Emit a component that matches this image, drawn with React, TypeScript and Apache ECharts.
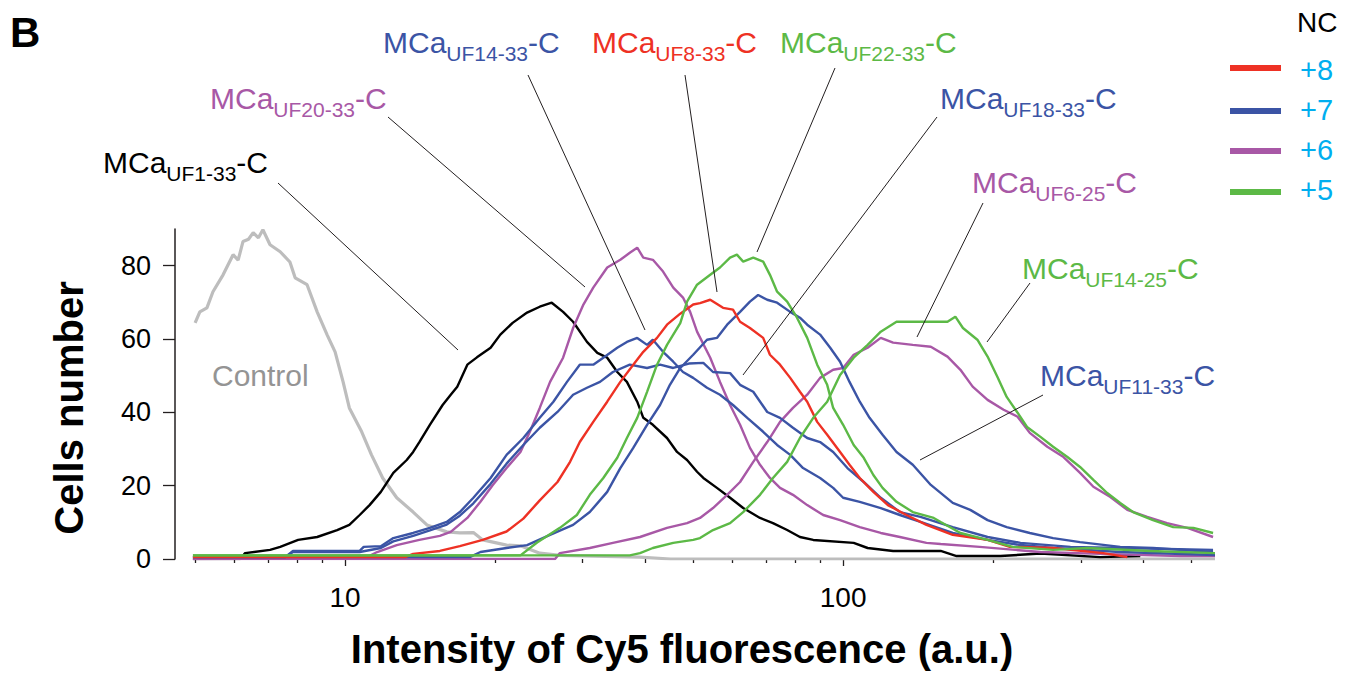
import React, { useEffect, useRef } from "react";
import * as echarts from "echarts";

const FONT = '"Liberation Sans", Arial, Helvetica, sans-serif';

// x axis (log) range and tick values
const X_MIN = 4.556;
const X_MAX = 558;
const X_MAJOR = [10, 100];
const X_MINOR = [5, 6, 7, 8, 9, 20, 30, 40, 50, 60, 70, 80, 90, 200, 300, 400, 500];
const Y_TICKS = [0, 20, 40, 60, 80];

// [Cy5 intensity (a.u.), cells number]
const control: [number, number][] = [
  [5.0, 64.4], [5.11, 67.4], [5.28, 68.5], [5.43, 72.9], [5.69, 77.5], [5.96, 83], [6.1, 81.5],
  [6.24, 86.6], [6.4, 87.2], [6.54, 89], [6.7, 87.6], [6.84, 89.8], [7.07, 85.7], [7.41, 83.8],
  [7.75, 81], [7.94, 76.7], [8.39, 74.8], [8.79, 67.4], [9.2, 61.2], [9.55, 56.5], [9.91, 48.3],
  [10.2, 41.2], [10.8, 34.7], [11.3, 28.4], [11.9, 22.1], [12.7, 16.7], [13.7, 12.8], [14.6, 9.3],
  [16.0, 7.4], [17.0, 7.1], [18.1, 7.2], [18.9, 5.2], [21.1, 3.8], [22.5, 3.6], [24.6, 1.6],
  [27, 1.0], [39, 0.5], [45, 0], [558, 0],
];
const uf1_33: [number, number][] = [
  [4.95, 0], [6.16, 0], [6.3, 1.6], [7.07, 2.5], [7.41, 3.3], [8.05, 5.2], [8.79, 6.0], [9.64, 7.9],
  [10.2, 9.3], [10.7, 12], [11.2, 14.7], [11.8, 18.3], [12.5, 23.5], [13.3, 27], [13.7, 29.2],
  [14.1, 31.9], [14.8, 36.6], [15.7, 42], [16.3, 44.8], [16.8, 47], [17.6, 53], [18.4, 55],
  [19.6, 57.6], [20.5, 61.2], [21.7, 64.4], [23.2, 67.2], [24.6, 68.8], [26.0, 69.9], [27.4, 67.4],
  [28.7, 64.7], [30.6, 59.2], [32.1, 56.2], [33.6, 54.9], [35.2, 51], [36.8, 48.3], [38.6, 42.9],
  [39.7, 38.5], [41.5, 36.6], [44.3, 33], [46.4, 29.2], [48.6, 27], [50.9, 23.8], [52.4, 22.1],
  [55.8, 19.4], [59.3, 16.7], [63, 13.9], [68.1, 11.2], [72.3, 9.8], [77.2, 7.9], [81.9, 6.0],
  [87.1, 5.2], [105, 4.4], [112, 3.0], [126, 2.2], [157, 2.2], [169, 0.8], [207, 0.8], [249, 1.5],
  [328, 0.5], [395, 0.8],
];
const uf20_33: [number, number][] = [
  [4.95, 0], [11, 0.3], [11.6, 1.9], [12.7, 3.8], [14.1, 5.2], [15.5, 6.3], [16.3, 7.4], [17.6, 11.2],
  [18.7, 15.6], [19.8, 20.2], [21.1, 24.8], [22.5, 29.2], [23.5, 34.7], [24.6, 41.2], [25.8, 48.3],
  [27.4, 54.9], [28.7, 63], [30.1, 69.4], [31.5, 74], [33.6, 79.5], [35.7, 81.6], [37.3, 83.5],
  [38.6, 84.9], [39.7, 82.2], [41.5, 81.6], [43.5, 78.4], [45.6, 74], [47.7, 71.3], [49.3, 67.4],
  [50.9, 62], [54.1, 54.9], [56.6, 48.3], [59.3, 42], [62.1, 36.6], [65, 30.3], [68.1, 25.7],
  [71.3, 22.1], [74.7, 19.4], [79.3, 17.5], [84.7, 14.7], [91.2, 12], [98.6, 10.6], [108, 8.7],
  [119, 7.1], [130, 6.0], [147, 4.4], [157, 4.1], [188, 3.3], [249, 1.9], [328, 1.4], [475, 0.8],
  [558, 0.8],
];
const uf6_25: [number, number][] = [
  [4.95, 0], [26.4, 0], [27, 1.6], [31, 3.0], [34.5, 4.4], [39.1, 6.0], [44.3, 8.5], [48.6, 9.8],
  [51.6, 11.2], [54.8, 13.9], [58.5, 17.5], [62.1, 21], [66, 26.5], [70.4, 31.9], [74.7, 37.4],
  [79.3, 41.2], [84.7, 44.8], [89.9, 49.4], [95.5, 51.6], [100, 52.1], [105, 55.7], [112, 57.6],
  [119, 60.3], [126, 59], [138, 58.4], [150, 57.9], [162, 55.2], [172, 51.6], [182, 47], [195, 43.4],
  [210, 40.7], [224, 38.8], [237, 34.4], [257, 30.6], [277, 27.8], [299, 23.5], [318, 19.7],
  [344, 16.9], [372, 13.4], [408, 11.5], [447, 9.8], [491, 8.5], [553, 6.0],
];
const uf14_25: [number, number][] = [
  [4.95, 1], [37.3, 1], [39.1, 1.6], [41.5, 3.0], [45.6, 4.4], [50, 5.2], [51.6, 5.7], [54.8, 7.9],
  [59.3, 9.8], [63, 12.8], [68.1, 17.5], [72.3, 22.1], [77.2, 26.5], [81.9, 33], [87.1, 38.5],
  [92.9, 42.9], [98.6, 50.2], [105, 54.9], [112, 58.4], [119, 62], [128, 64.7], [138, 64.7],
  [152, 64.7], [162, 64.7], [168, 66.1], [174, 63], [186, 59.8], [195, 55.2], [204, 49.7],
  [213, 44.2], [224, 39.9], [234, 36], [249, 33.3], [264, 30.6], [282, 27.8], [299, 25.1],
  [318, 21.6], [339, 18], [360, 15.3], [382, 12.8], [419, 10.6], [460, 8.7], [505, 8.5], [553, 7.1],
];
const uf22_33: [number, number][] = [
  [4.95, 1], [22.5, 1], [24.3, 4.5], [27, 8.5], [29.2, 12], [31, 17.5], [33, 22.1], [35.2, 27.6],
  [36.8, 33], [38.6, 38.5], [40.4, 45.6], [42.3, 53], [44.3, 58.4], [47.1, 64.3], [48.6, 70.2],
  [50.9, 74.8], [54.1, 77.5], [56.6, 79.5], [59.3, 82.2], [61.2, 83], [63, 81.1], [66, 82.2],
  [69.1, 81.1], [71.3, 77.5], [73.7, 72.9], [77.2, 70.2], [80.8, 65.8], [84.7, 60.3], [88.7, 53],
  [92.9, 47.5], [95.5, 41.2], [100, 36.6], [105, 31.1], [110, 27.6], [115, 22.9], [120, 19.4],
  [128, 15.6], [138, 12.8], [152, 11.2], [157, 10.1], [172, 7.1], [195, 5.2], [219, 3.3],
  [264, 2.5], [309, 3.0], [414, 2.2], [558, 1.6],
];
const uf8_33: [number, number][] = [
  [4.95, 0.5], [13.2, 0.5], [13.7, 1.4], [15.5, 2.2], [17, 3.5], [18.9, 5.2], [21.1, 7.5], [22.8, 11],
  [24.6, 16], [26.7, 21], [28.3, 26.5], [29.6, 31.9], [31.5, 37.4], [33.6, 42.9], [35.7, 48.3],
  [37.9, 53], [39.7, 56.5], [42.3, 60.3], [44.3, 63.9], [47.1, 66.9], [50, 69.4], [51.6, 69.8],
  [54.1, 70.7], [57.4, 68.5], [60.1, 68], [62.1, 64.7], [65, 63], [69.1, 60.3], [71.3, 55.7],
  [74.7, 53], [78.3, 49.4], [81.9, 45.6], [84.7, 42.9], [88.7, 37.4], [92.9, 33.9], [98.6, 29.2],
  [103, 25.7], [108, 22.1], [115, 18.3], [123, 14.7], [134, 12], [147, 9.3], [166, 6.6], [195, 5.2],
  [216, 3.3], [264, 3.0], [333, 1.6], [372, 0.5],
];
const uf14_33: [number, number][] = [
  [4.95, 0.5], [7.58, 0.5], [7.86, 2.2], [10.7, 2.2], [10.9, 3.3], [11.8, 3.5], [12.5, 5.7],
  [13.7, 7.1], [14.8, 8.5], [16, 10.1], [17, 12.8], [18.1, 16.7], [19.6, 22.1], [21.1, 28.4],
  [22.8, 33], [24.6, 38.5], [26.2, 42.9], [27.9, 48.3], [29.6, 53], [31.5, 53], [33, 54.9],
  [35.2, 57.6], [36.8, 59.2], [38.6, 60.3], [40.4, 58.4], [41.5, 59.8], [43.5, 56.5], [45.6, 53.8],
  [47.7, 51], [50, 49.4], [53.3, 46.7], [56.6, 44.8], [60.1, 42], [64.2, 38.5], [69.1, 34.7],
  [73.7, 31.1], [78.3, 28.4], [83.1, 24.8], [89.9, 22.1], [95.5, 19.4], [100, 16.7], [108, 15.6],
  [119, 13.9], [130, 12], [143, 10.1], [166, 7.1], [195, 5.2], [227, 3.8], [264, 3.0], [360, 1.9],
  [558, 1.1],
];
const uf18_33: [number, number][] = [
  [4.95, 0.5], [7.58, 0.5], [7.86, 1.9], [10.7, 1.9], [11.8, 3.0], [12.5, 4.8], [13.7, 6.3],
  [14.8, 7.8], [16, 9.4], [17, 11.8], [18.1, 15.2], [19.6, 20.5], [21.1, 26], [22.8, 31.1],
  [24.6, 35.8], [26.7, 40.1], [28.7, 44.8], [30.6, 46.7], [32.5, 48.3], [34.5, 51], [37.3, 53],
  [40.4, 52.1], [42.9, 53], [45.6, 52.1], [49, 53.3], [52.4, 53.5], [54.8, 51], [59.3, 50.7],
  [62.1, 47.5], [66, 45.6], [70.4, 40.1], [74.7, 38.5], [79.3, 35.8], [84.7, 33], [89.9, 31.9],
  [95.5, 29.2], [102, 24.8], [110, 21], [119, 16.7], [130, 12.8], [143, 11.5], [166, 8.7],
  [195, 6.0], [227, 4.4], [286, 3.3], [360, 3.0], [553, 2.5],
];
const uf11_33: [number, number][] = [
  [4.95, 0.5], [17.8, 0.5], [18.7, 1.9], [21.1, 3.0], [23.2, 3.8], [25.8, 6.6], [28.7, 9.3],
  [31, 12.8], [33.6, 18.3], [35.7, 24.8], [37.9, 30.3], [40.4, 36.6], [42.9, 42], [44.9, 47.5],
  [47.1, 52.1], [50, 55.7], [53.3, 59.8], [55.8, 60.3], [58.5, 63.9], [62.1, 67.4], [65, 70.2],
  [67.5, 72], [70.4, 70.7], [73.7, 69.9], [78.3, 67.4], [81.9, 65.8], [84.7, 63.9], [89.9, 61.2],
  [94.2, 57.6], [98.6, 53.8], [103, 48.3], [108, 42.9], [113, 38.5], [120, 33.9], [128, 29.2],
  [138, 25.7], [150, 20.2], [166, 15.3], [180, 13.4], [195, 10.6], [213, 8.7], [237, 7.1],
  [264, 5.7], [299, 4.6], [360, 3.3], [419, 3.0], [553, 1.9],
];

const RED = "#ee3124";
const BLUE = "#3b54a5";
const PURPLE = "#a858a6";
const GREEN = "#5cb946";
const GRAY = "#bdbdbd";
const CYAN = "#00aeef";

const NC_LEGEND = [
  { label: "+8", color: RED },
  { label: "+7", color: BLUE },
  { label: "+6", color: PURPLE },
  { label: "+5", color: GREEN },
];

const curves = [
  { name: "Control", data: control, color: GRAY, width: 3.2 },
  { name: "MCaUF1-33-C", data: uf1_33, color: "#000000", width: 2.4 },
  { name: "MCaUF20-33-C", data: uf20_33, color: PURPLE, width: 2.4 },
  { name: "MCaUF6-25-C", data: uf6_25, color: PURPLE, width: 2.4 },
  { name: "MCaUF14-33-C", data: uf14_33, color: BLUE, width: 2.4 },
  { name: "MCaUF18-33-C", data: uf18_33, color: BLUE, width: 2.4 },
  { name: "MCaUF11-33-C", data: uf11_33, color: BLUE, width: 2.4 },
  { name: "MCaUF8-33-C", data: uf8_33, color: RED, width: 2.4 },
  { name: "MCaUF22-33-C", data: uf22_33, color: GREEN, width: 2.4 },
  { name: "MCaUF14-25-C", data: uf14_25, color: GREEN, width: 2.4 },
];

// annotation layout (pixels): label left, main-text baseline, leader line
const annotations = [
  { sub: "UF14-33", color: BLUE, x: 383, base: 52, line: [528, 75, 645, 330] },
  { sub: "UF8-33", color: RED, x: 592, base: 52, line: [685, 75, 717, 292] },
  { sub: "UF22-33", color: GREEN, x: 780, base: 52, line: [835, 68, 757, 252] },
  { sub: "UF20-33", color: PURPLE, x: 210, base: 108, line: [388, 117, 585, 287] },
  { sub: "UF18-33", color: BLUE, x: 940, base: 108, line: [937, 117, 743, 375] },
  { sub: "UF1-33", color: "#000000", x: 103, base: 172, line: [278, 183, 458, 350] },
  { sub: "UF6-25", color: PURPLE, x: 972, base: 192, line: [983, 203, 917, 337] },
  { sub: "UF14-25", color: GREEN, x: 1022, base: 278, line: [1030, 283, 987, 342] },
  { sub: "UF11-33", color: BLUE, x: 1040, base: 385, line: [1043, 395, 920, 460] },
];

export default function App() {
  const ref = useRef<HTMLDivElement>(null);

  useEffect(() => {
    if (!ref.current) return;
    const chart = echarts.init(ref.current, undefined, { renderer: "svg" });

    const graphic: any[] = [];
    graphic.push({
      type: "text",
      x: 10,
      y: 11,
      style: { text: "B", fill: "#000", font: `bold 42px ${FONT}`, textVerticalAlign: "top" },
    });
    annotations.forEach((a) => {
      graphic.push({
        type: "line",
        shape: { x1: a.line[0], y1: a.line[1], x2: a.line[2], y2: a.line[3] },
        style: { stroke: "#231f20", lineWidth: 1 },
        z: 50,
      });
      graphic.push({
        type: "text",
        x: a.x,
        y: a.base - 31.4,
        z: 50,
        style: {
          text: `{m|MCa}{s|${a.sub}}{m|-C}`,
          fill: a.color,
          textVerticalAlign: "top",
          rich: {
            m: { fontSize: 30, fontFamily: FONT, fill: a.color },
            s: { fontSize: 21, fontFamily: FONT, fill: a.color, padding: [22, 0, 0, 0] },
          },
        },
      });
    });
    graphic.push({
      type: "text",
      x: 212,
      y: 360,
      style: { text: "Control", fill: "#949494", font: `30px ${FONT}`, textVerticalAlign: "top" },
    });
    graphic.push({
      type: "text",
      x: 1297,
      y: 22,
      style: { text: "NC", fill: "#000", font: `28px ${FONT}`, textVerticalAlign: "middle" },
    });
    NC_LEGEND.forEach((item, i) => {
      const cy = [68, 111, 151, 192][i];
      graphic.push({
        type: "line",
        shape: { x1: 1230, y1: cy, x2: 1281, y2: cy },
        style: { stroke: item.color, lineWidth: 6 },
      });
      graphic.push({
        type: "text",
        x: 1300,
        y: [70, 110, 150, 190][i],
        style: { text: item.label, fill: CYAN, font: `29px ${FONT}`, textVerticalAlign: "middle" },
      });
    });

    const tickStyle = { color: "#231f20", width: 1.3 };

    chart.setOption({
      animation: false,
      grid: { left: 175, right: 139, top: 229, bottom: 116, containLabel: false },
      xAxis: [
        {
          type: "log",
          min: X_MIN,
          max: X_MAX,
          axisLine: { show: false },
          axisTick: { show: true, customValues: X_MAJOR, length: 7, lineStyle: tickStyle },
          axisLabel: {
            customValues: X_MAJOR,
            margin: 24,
            fontSize: 28,
            color: "#000",
            fontFamily: FONT,
          },
          splitLine: { show: false },
          minorTick: { show: false },
          name: "Intensity of Cy5 fluorescence (a.u.)",
          nameLocation: "middle",
          nameGap: 70,
          nameTextStyle: {
            fontSize: 40,
            fontWeight: "bold",
            color: "#000",
            fontFamily: FONT,
            padding: [0, 26, 0, 0],
          },
        },
        {
          type: "log",
          min: X_MIN,
          max: X_MAX,
          position: "bottom",
          axisLine: { show: false },
          axisTick: { show: true, customValues: X_MINOR, length: 4, lineStyle: tickStyle },
          axisLabel: { show: false },
          splitLine: { show: false },
        },
      ],
      yAxis: {
        type: "value",
        min: 0,
        max: 90,
        axisLine: { show: true, lineStyle: { color: "#231f20", width: 1.5 } },
        axisTick: { show: true, customValues: Y_TICKS, length: 12, lineStyle: tickStyle },
        axisLabel: {
          customValues: Y_TICKS,
          margin: 24,
          fontSize: 27,
          color: "#000",
          fontFamily: FONT,
        },
        splitLine: { show: false },
        name: "Cells number",
        nameLocation: "middle",
        nameGap: 86,
        nameRotate: 90,
        nameTextStyle: {
          fontSize: 40,
          fontWeight: "bold",
          color: "#000",
          fontFamily: FONT,
          padding: [0, 28, 0, 0],
        },
      },
      series: curves.map((c) => ({
        type: "line",
        name: c.name,
        data: c.data,
        xAxisIndex: 0,
        yAxisIndex: 0,
        symbol: "none",
        showSymbol: false,
        clip: true,
        lineStyle: { color: c.color, width: c.width },
        itemStyle: { color: c.color },
      })),
      graphic,
    });

    return () => chart.dispose();
  }, []);

  return (
    <div
      ref={ref}
      style={{ position: "absolute", left: 0, top: 0, width: 1354, height: 675, background: "#fff" }}
    />
  );
}
